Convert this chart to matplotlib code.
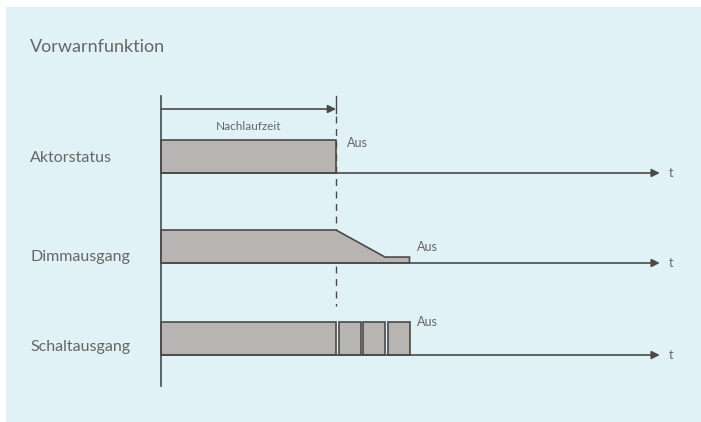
import matplotlib.pyplot as plt
from matplotlib.patches import Rectangle, Polygon

# Zeiteinheiten (0 = Start, Nachlaufzeit endet bei 10)
nachlaufzeit = 10.0
t_ende = 28.5
zeilen = ["Aktorstatus", "Dimmausgang", "Schaltausgang"]
# Dimmausgang: Rampe nach Ablauf der Nachlaufzeit
dimm_t = [0.0, 10.0, 12.8, 14.2, 14.2]
dimm_pegel = [1.0, 1.0, 0.18, 0.18, 0.0]
# Schaltausgang: Blinkimpulse (Start, Ende)
impulse = [(0.0, 10.0), (10.15, 11.4), (11.55, 12.8), (12.95, 14.2)]

hintergrund = '#e0f2f5'
fuellung = '#b8b4b2'
linie = '#4a4a4a'
textfarbe = '#666666'

PX = 17.5   # Pixel pro Zeiteinheit
PY = 33.0   # Pixel pro Pegeleinheit
X0 = 161

plt.rcParams['font.family'] = ['Lato', 'DejaVu Sans']

fig = plt.figure(figsize=(7.01, 4.22), dpi=100)
fig.patch.set_facecolor('white')
ax = fig.add_axes([0, 0, 1, 1])
ax.set_xlim(-X0 / PX, (701 - X0) / PX)
ax.set_ylim(0, 422 / PY)
ax.axis('off')

def py(p):
    # Pixelzeile -> Datenkoordinate
    return (422 - p) / PY

# Hintergrundfläche
ax.add_patch(Rectangle((-155 / PX, -1), 800 / PX, py(7) + 1, facecolor=hintergrund, edgecolor='none', zorder=0))

ax.text(-131 / PX, py(47.5), "Vorwarnfunktion", fontsize=13, color=textfarbe, va='center', ha='left')

basis = [py(173), py(263), py(355)]
label_y = [py(157.5), py(257), py(347)]
for name, b, ly in zip(zeilen, basis, label_y):
    ax.text(-131 / PX, ly, name, fontsize=11.5, color=textfarbe, va='center', ha='left')
    ax.annotate('', xy=(t_ende, b), xytext=(0, b),
                arrowprops=dict(arrowstyle='-|>', color=linie, lw=1.2, mutation_scale=12, shrinkA=0, shrinkB=0))
    ax.text(t_ende + 0.5, b, 't', fontsize=9, color=textfarbe, va='center', ha='left')

# Zeitachse senkrecht
ax.plot([0, 0], [py(96), py(386)], color=linie, lw=1.2, zorder=3)

# Nachlaufzeit-Pfeil
ax.annotate('', xy=(nachlaufzeit, py(109)), xytext=(0, py(109)),
            arrowprops=dict(arrowstyle='-|>', color=linie, lw=1.2, mutation_scale=12, shrinkA=0, shrinkB=0))
ax.text(nachlaufzeit / 2, py(127), "Nachlaufzeit", fontsize=8.5, color=textfarbe, va='center', ha='center')
ax.plot([nachlaufzeit, nachlaufzeit], [py(96), py(113)], color=linie, lw=1.0, zorder=3)
ax.plot([nachlaufzeit, nachlaufzeit], [py(116), py(306)], color=linie, lw=1.0, ls=(0, (5, 4)), zorder=1)

# Aktorstatus
b = basis[0]
ax.add_patch(Rectangle((0, b), nachlaufzeit, 1.0, facecolor=fuellung, edgecolor=linie, lw=1.2, zorder=2))
ax.text(nachlaufzeit + 0.6, py(143), "Aus", fontsize=9, color=textfarbe, va='center', ha='left')

# Dimmausgang
b = basis[1]
pts = [(0, b)] + [(t, b + p) for t, p in zip(dimm_t, dimm_pegel)]
ax.add_patch(Polygon(pts, closed=True, facecolor=fuellung, edgecolor=linie, lw=1.2, zorder=2))
ax.text(dimm_t[-1] + 0.4, py(247), "Aus", fontsize=9, color=textfarbe, va='center', ha='left')

# Schaltausgang
b = basis[2]
for s, e in impulse:
    ax.add_patch(Rectangle((s, b), e - s, 1.0, facecolor=fuellung, edgecolor=linie, lw=1.2, zorder=2))
ax.text(impulse[-1][1] + 0.45, py(322), "Aus", fontsize=9, color=textfarbe, va='center', ha='left')

fig.savefig('out.png', dpi=100, facecolor=fig.get_facecolor())
